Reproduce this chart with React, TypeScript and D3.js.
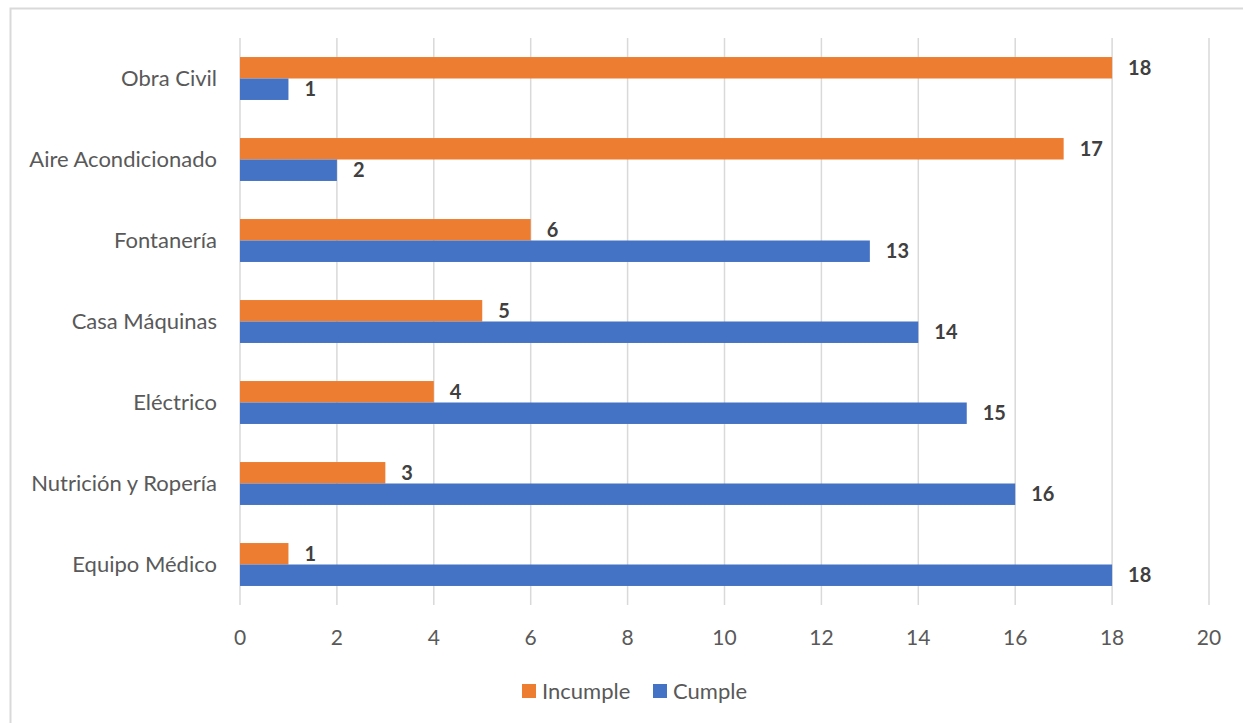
import * as d3 from "d3";
import { useEffect, useRef } from "react";

const categories = [
	"Obra Civil",
	"Aire Acondicionado",
	"Fontanería",
	"Casa Máquinas",
	"Eléctrico",
	"Nutrición y Ropería",
	"Equipo Médico",
];
const incumple = [18, 17, 6, 5, 4, 3, 1];
const cumple = [1, 2, 13, 14, 15, 16, 18];
const seriesNames = ["Incumple", "Cumple"];
const seriesColors = ["#ED7D31", "#4472C4"];
const xTicks = [0, 2, 4, 6, 8, 10, 12, 14, 16, 18, 20];

const width = 1243;
const height = 723;
const margin = { top: 38, right: 34, bottom: 118, left: 240 };
const font = "Lato, 'Open Sans', sans-serif";

const App = () => {
	const svgRef = useRef<SVGSVGElement | null>(null);

	useEffect(() => {
		const svg = d3.select(svgRef.current);
		svg.selectAll("*").remove();

		const chartWidth = width - margin.left - margin.right;
		const chartHeight = height - margin.top - margin.bottom;

		//outer frame of the chart area
		svg
			.append("rect")
			.attr("x", 10.5)
			.attr("y", 8.5)
			.attr("width", 1240)
			.attr("height", 720)
			.attr("fill", "white")
			.attr("stroke", "#D9D9D9")
			.attr("stroke-width", 2);

		const xScale = d3.scaleLinear().domain([0, 20]).range([0, chartWidth]);
		const yScale = d3
			.scaleBand()
			.domain(categories)
			.range([0, chartHeight])
			.paddingInner(0.47)
			.paddingOuter(0.235);
		const sub = d3
			.scaleBand()
			.domain(seriesNames)
			.range([0, yScale.bandwidth()]);

		const g = svg
			.append("g")
			.attr("transform", `translate(${margin.left}, ${margin.top})`);

		//vertical gridlines
		g.selectAll("line.grid")
			.data(xTicks)
			.enter()
			.append("line")
			.attr("class", "grid")
			.attr("x1", (d) => xScale(d))
			.attr("x2", (d) => xScale(d))
			.attr("y1", 0)
			.attr("y2", chartHeight)
			.attr("stroke", "#D9D9D9")
			.attr("stroke-width", 1.5);

		const rows = categories.map((c, i) => ({
			cat: c,
			values: [incumple[i], cumple[i]],
		}));

		const groups = g
			.selectAll("g.row")
			.data(rows)
			.enter()
			.append("g")
			.attr("transform", (d) => `translate(0, ${yScale(d.cat)})`);

		seriesNames.forEach((name, si) => {
			groups
				.append("rect")
				.attr("x", 0)
				.attr("y", sub(name)!)
				.attr("width", (d) => xScale(d.values[si]))
				.attr("height", sub.bandwidth())
				.attr("fill", seriesColors[si]);
			groups
				.append("text")
				.attr("x", (d) => xScale(d.values[si]) + 16)
				.attr("y", sub(name)! + sub.bandwidth() / 2)
				.attr("dy", "0.36em")
				.attr("font-family", font)
				.attr("font-size", 20)
				.attr("font-weight", "bold")
				.attr("fill", "#404040")
				.text((d) => d.values[si]);
		});

		//category labels
		g.selectAll("text.cat")
			.data(categories)
			.enter()
			.append("text")
			.attr("class", "cat")
			.attr("x", -23)
			.attr("y", (d) => yScale(d)! + yScale.bandwidth() / 2)
			.attr("dy", "0.36em")
			.attr("text-anchor", "end")
			.attr("font-family", font)
			.attr("font-size", 22)
			.attr("fill", "#595959")
			.text((d) => d);

		//x tick labels
		g.selectAll("text.tick")
			.data(xTicks)
			.enter()
			.append("text")
			.attr("class", "tick")
			.attr("x", (d) => xScale(d))
			.attr("y", chartHeight + 32)
			.attr("dy", "0.36em")
			.attr("text-anchor", "middle")
			.attr("font-family", font)
			.attr("font-size", 21)
			.attr("fill", "#595959")
			.text((d) => d);

		//legend
		const legend = svg.append("g").attr("transform", "translate(522, 684)");
		const legendX = [0, 131];
		seriesNames.forEach((name, i) => {
			legend
				.append("rect")
				.attr("x", legendX[i])
				.attr("y", 0)
				.attr("width", 14)
				.attr("height", 14)
				.attr("fill", seriesColors[i]);
			legend
				.append("text")
				.attr("x", legendX[i] + 20)
				.attr("y", 7)
				.attr("dy", "0.36em")
				.attr("font-family", font)
				.attr("font-size", 22)
				.attr("fill", "#595959")
				.text(name);
		});
	}, []);

	return (
		<svg
			ref={svgRef}
			width={width}
			height={height}
			style={{ position: "absolute", left: 0, top: 0 }}
		/>
	);
};

export default App;
